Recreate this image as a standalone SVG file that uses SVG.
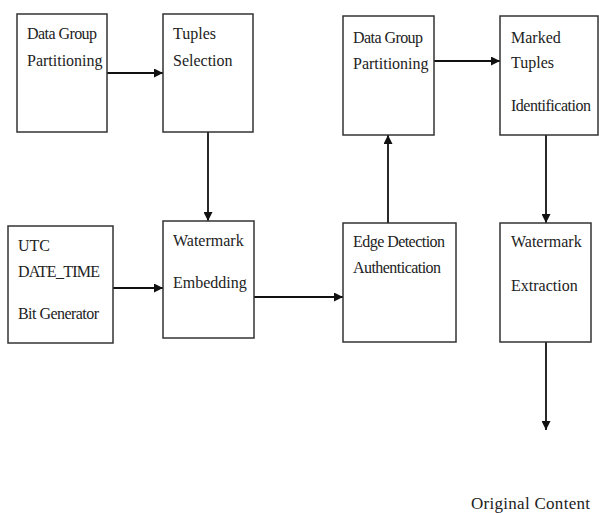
<svg xmlns="http://www.w3.org/2000/svg" width="599" height="513" viewBox="0 0 599 513">
<style>
.box{fill:#fff;stroke:#333;stroke-width:1.5}
.t{font-family:'Liberation Serif','Tinos','DejaVu Serif',serif;font-size:16px;fill:#222}
.c{stroke:#111;stroke-width:1.8;fill:none;marker-end:url(#ah)}
</style>
<defs>
<marker id="ah" viewBox="0 0 10 10" refX="10" refY="5" markerWidth="9" markerHeight="9" markerUnits="userSpaceOnUse" orient="auto">
<path d="M0,0 L10,5 L0,10 Z" fill="#111"/>
</marker>
</defs>
<rect width="599" height="513" fill="#fff"/>
<g id="connectors">
<line class="c" x1="107" y1="73" x2="163" y2="73"/>
<line class="c" x1="208" y1="132" x2="208" y2="221"/>
<line class="c" x1="107" y1="288" x2="163" y2="288"/>
<line class="c" x1="254" y1="297" x2="343" y2="297"/>
<line class="c" x1="388" y1="223" x2="388" y2="135"/>
<line class="c" x1="434" y1="61" x2="500" y2="61"/>
<line class="c" x1="546" y1="135" x2="546" y2="223"/>
<line class="c" x1="546" y1="342" x2="546" y2="430"/>
</g>
<g id="n1"><rect class="box" x="17" y="14" width="90" height="118"/>
<text class="t" x="27" y="39" textLength="70">Data Group</text><text class="t" x="27" y="66">Partitioning</text></g>
<g id="n2"><rect class="box" x="163" y="14" width="90" height="118"/>
<text class="t" x="173" y="39">Tuples</text><text class="t" x="173" y="66">Selection</text></g>
<g id="n3"><rect class="box" x="343" y="16" width="91" height="119"/>
<text class="t" x="353" y="43" textLength="70">Data Group</text><text class="t" x="353" y="69">Partitioning</text></g>
<g id="n4"><rect class="box" x="500" y="16" width="98" height="119"/>
<text class="t" x="511" y="43">Marked</text><text class="t" x="511" y="68">Tuples</text><text class="t" x="511" y="111" textLength="80">Identification</text></g>
<g id="n5"><rect class="box" x="8" y="226" width="105" height="117"/>
<text class="t" x="18" y="251">UTC</text><text class="t" x="18" y="277" textLength="82">DATE_TIME</text><text class="t" x="18" y="319" textLength="81">Bit Generator</text></g>
<g id="n6"><rect class="box" x="163" y="221" width="91" height="117"/>
<text class="t" x="173" y="246">Watermark</text><text class="t" x="173" y="288">Embedding</text></g>
<g id="n7"><rect class="box" x="343" y="223" width="113" height="119"/>
<text class="t" x="353" y="247" textLength="92">Edge Detection</text><text class="t" x="353" y="273" textLength="88">Authentication</text></g>
<g id="n8"><rect class="box" x="500" y="223" width="91" height="119"/>
<text class="t" x="511" y="247">Watermark</text><text class="t" x="511" y="291">Extraction</text></g>
<g id="n9"><text class="t" x="471" y="509" style="font-size:17px" textLength="119">Original Content</text></g>
</svg>
